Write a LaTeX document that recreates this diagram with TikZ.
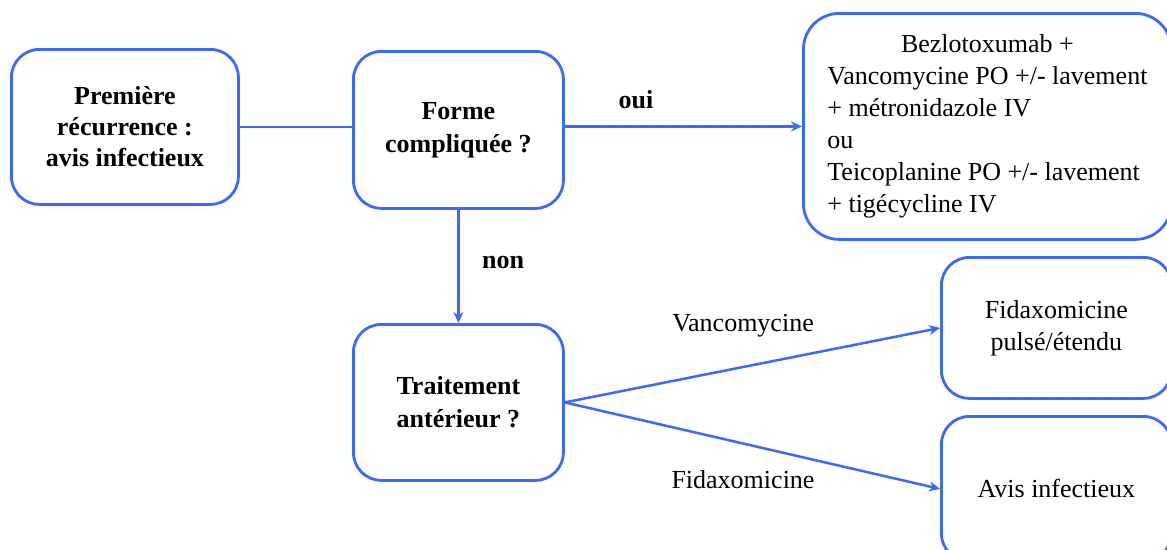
\documentclass[tikz,border=0pt]{standalone}
\usepackage{fontspec}
\setmainfont{Liberation Serif}
\usetikzlibrary{arrows.meta}
\definecolor{flowblue}{RGB}{58,106,248}
\tikzset{
  box/.style={draw=flowblue, line width=2.8pt, rounded corners=28pt, anchor=north west,
    font=\fontsize{26}{32}\selectfont, align=center, inner sep=4pt},
  conn/.style={draw=flowblue, line width=2.5pt},
  arr/.style={conn, -{Stealth[length=11pt,width=10pt]}},
  lbl/.style={font=\fontsize{26}{32}\selectfont, inner sep=0pt},
}
\begin{document}
\begin{tikzpicture}[x=1pt,y=-1pt]
\useasboundingbox (0,0) rectangle (1167,549);
\node[box, minimum width=227pt, minimum height=155pt, font=\fontsize{26}{31}\selectfont\bfseries] (b1) at (10,48) {Première\\récurrence :\\avis infectieux};
\node[box, minimum width=210pt, minimum height=157pt, font=\fontsize{26}{33}\selectfont\bfseries] (b2) at (352,50) {Forme\\compliquée ?};
\node[box, minimum width=368pt, minimum height=226pt, rounded corners=36pt] (b3) at (802,12) {\begin{tabular}{@{}l@{}}\multicolumn{1}{@{}c@{}}{Bezlotoxumab +}\\Vancomycine PO +/- lavement\\+ métronidazole IV\\ou\\Teicoplanine PO +/- lavement\\+ tigécycline IV\end{tabular}};
\node[box, minimum width=210pt, minimum height=156pt, font=\fontsize{26}{33}\selectfont\bfseries] (b4) at (352,323) {Traitement\\antérieur ?};
\node[box, minimum width=230pt, minimum height=141pt] (b5) at (940,256) {Fidaxomicine\\pulsé/étendu};
\node[box, minimum width=230pt, minimum height=145pt] (b6) at (940,415) {Avis infectieux};

\draw[conn] (b1.east) -- (b1.east -| b2.west);
\draw[arr] (b2.east |- b3.west) -- (b3.west);
\draw[arr] (b2.south) -- (b4.north);
\draw[arr] (b4.east) -- (b5.west);
\draw[arr] (b4.east) -- (b6.west);

\node[lbl, font=\fontsize{26}{32}\selectfont\bfseries] (oui) at (636,100) {oui};
\node[lbl, font=\fontsize{26}{32}\selectfont\bfseries] (non) at (503,262) {non};
\node[lbl] (lv) at (743,326) {Vancomycine};
\node[lbl] (lf) at (743,480) {Fidaxomicine};
\end{tikzpicture}
\end{document}
